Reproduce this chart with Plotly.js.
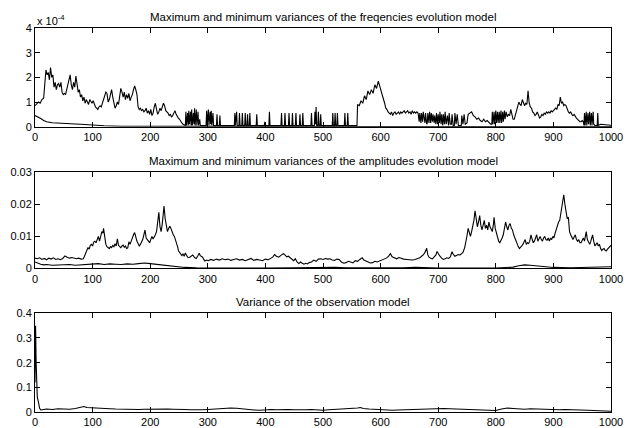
<!DOCTYPE html>
<html>
<head>
<meta charset="utf-8">
<script src="https://cdn.plot.ly/plotly-3.0.1.min.js"></script>
<style>html,body{margin:0;padding:0;background:#fff;}#chart{width:626px;height:428px;}</style>
</head>
<body>
<div id="chart"></div>
<script>
// Panel titles
const titles = [
  "Maximum and minimum variances of the freqencies evolution model",
  "Maximum and minimum variances of the amplitudes evolution model",
  "Variance of the observation model"
];
const xTicks = [0,100,200,300,400,500,600,700,800,900,1000];

// Panel 1: frequency evolution model variances, in units of 1e-4 ([sample, value])
const freqMax = [
[0,0.85],[3,0.95],[6,1.0],[9,0.95],[12,1.1],[15,1.15],[17,1.6],[19,2.3],[21,2.1],[23,2.2],[25,1.9],[27,2.4],[29,2.0],[31,2.1],[33,1.6],[35,1.8],[37,1.5],[39,1.7],[41,1.75],[43,1.6],[45,1.8],[47,1.4],[49,1.3],[51,1.35],[53,1.3],[55,1.5],[57,1.6],[59,1.9],[61,2.1],[63,1.7],[65,1.5],[67,1.8],[69,1.6],[71,2.05],[73,1.7],[75,1.4],[77,1.5],[79,1.2],[81,1.3],[83,1.05],[85,1.2],[87,0.95],[89,1.1],[91,1.0],[93,0.9],[95,1.1],[97,1.0],[99,0.95],[101,1.05],[103,0.9],[105,0.8],[107,0.75],[109,0.7],[111,0.8],[113,0.85],[115,0.8],[117,0.95],[119,1.0],[121,1.2],[123,1.4],[125,1.35],[127,1.0],[129,1.1],[131,1.3],[133,1.5],[135,1.2],[137,0.9],[139,0.75],[141,0.85],[143,1.0],[145,0.9],[147,1.2],[149,1.55],[151,1.4],[153,1.2],[155,1.4],[157,1.1],[159,1.3],[161,1.15],[163,1.35],[165,1.05],[167,1.2],[169,1.3],[171,1.5],[173,1.65],[175,1.5],[177,1.3],[179,0.8],[181,0.7],[183,0.75],[185,0.65],[187,0.7],[189,0.6],[191,0.65],[193,0.75],[195,0.55],[197,0.65],[199,0.5],[201,0.7],[203,0.45],[205,0.55],[207,0.8],[209,0.95],[211,0.7],[213,0.5],[215,0.6],[217,0.75],[219,0.65],[221,0.8],[223,0.95],[225,0.85],[227,0.65],[229,0.6],[231,0.55],[233,0.45],[235,0.5],[237,0.4],[239,0.45],[241,0.55],[243,0.65],[245,0.5],[247,0.4],[249,0.35],[251,0.3],[253,0.2],[255,0.15],[257,0.1],[259,0.08],
[261,0.05],[262,0.6],[263,0.05],[265,0.55],[266,0.05],[267,0.65],[268,0.1],[270,0.6],[271,0.05],[272,0.7],[273,0.05],[275,0.55],[276,0.1],[277,0.75],[278,0.05],[280,0.7],[281,0.05],[283,0.6],[284,0.05],[286,0.3],[287,0.05],[297,0.05],[298,0.65],[299,0.05],[301,0.7],[302,0.05],[304,0.6],[305,0.1],[306,0.65],[307,0.05],[309,0.55],[310,0.05],[315,0.05],[316,0.5],[317,0.05],[320,0.05],[321,0.45],[322,0.05],[346,0.05],[347,0.55],[348,0.05],[350,0.6],[351,0.05],[354,0.05],[355,0.55],[356,0.05],[359,0.05],[360,0.55],[361,0.05],[364,0.05],[365,0.55],[366,0.05],[368,0.05],[369,0.5],[370,0.05],[372,0.05],[373,0.55],[374,0.05],[384,0.05],[385,0.5],[386,0.05],[398,0.05],[399,0.2],[400,0.05],[406,0.05],[407,0.6],[408,0.05],[427,0.05],[428,0.55],[429,0.05],[433,0.05],[434,0.55],[435,0.05],[440,0.05],[441,0.55],[442,0.05],[446,0.05],[447,0.55],[448,0.05],[452,0.05],[453,0.55],[454,0.05],[459,0.05],[460,0.5],[461,0.05],[464,0.05],[465,0.55],[466,0.05],[479,0.05],[480,0.55],[481,0.05],[485,0.05],[486,0.6],[487,0.1],[488,0.8],[489,0.05],[491,0.05],[492,0.6],[493,0.05],[495,0.05],[496,0.5],[497,0.05],[516,0.05],[517,0.55],[518,0.05],[520,0.05],[521,0.55],[522,0.05],[524,0.05],[525,0.55],[526,0.05],[537,0.05],[538,0.55],[539,0.05],[542,0.05],[543,0.55],[544,0.05],[558,0.05],[559,0.05],
[560,0.9],[563,0.85],[566,1.05],[569,0.95],[572,1.25],[575,1.1],[578,1.45],[581,1.3],[584,1.5],[587,1.35],[590,1.7],[593,1.55],[596,1.85],[599,1.6],[601,1.5],[603,1.35],[605,1.2],[607,0.95],[609,0.75],[611,0.7],[613,0.6],[615,0.55],[617,0.5],[619,0.6],[621,0.45],[623,0.55],[625,0.6],[627,0.5],[629,0.55],[631,0.6],[633,0.5],[635,0.6],[637,0.55],[639,0.6],[641,0.65],[643,0.55],[645,0.6],[647,0.65],[649,0.55],[651,0.6],[653,0.5],[655,0.65],[657,0.55],[659,0.6],[661,0.55],[663,0.6],[665,0.55],
[667,0.2],[668,0.55],[670,0.15],[671,0.55],[673,0.2],[674,0.6],[676,0.15],[677,0.15],[678,0.55],[680,0.1],[681,0.15],[682,0.55],[684,0.15],[685,0.6],[687,0.15],[688,0.55],[690,0.2],[691,0.5],[693,0.15],[694,0.45],[696,0.1],[697,0.55],[699,0.1],[700,0.5],[702,0.15],[703,0.6],[705,0.1],[706,0.5],[708,0.05],[709,0.5],[711,0.1],[712,0.6],[714,0.1],[716,0.45],[718,0.05],[719,0.55],[721,0.1],[723,0.1],[724,0.5],[726,0.05],[728,0.05],[729,0.55],[731,0.1],[733,0.5],[735,0.05],[740,0.05],[741,0.45],[743,0.1],[745,0.5],[747,0.1],[750,0.15],[752,0.5],[755,0.55],[758,0.6],[761,0.45],[764,0.4],[767,0.3],[770,0.35],[773,0.25],[776,0.2],[779,0.3],[782,0.2],[785,0.25],[788,0.15],[791,0.1],[793,0.1],[794,0.6],[795,0.1],[797,0.6],[798,0.1],[800,0.65],[801,0.15],[803,0.6],[804,0.15],[806,0.6],[807,0.15],[809,0.65],[810,0.15],[812,0.6],[813,0.2],[815,0.65],[816,0.3],[818,0.6],[820,0.4],[822,0.5],[824,0.45],[826,0.7],[828,0.5],[830,0.3],[832,0.3],[834,0.5],[836,0.6],[838,0.8],[840,1.0],[842,0.9],[844,0.85],[846,1.1],[848,1.0],[850,0.85],[852,0.95],[854,0.9],[856,1.45],[858,0.95],[860,0.8],[862,0.75],[864,0.6],[866,0.55],[868,0.45],[870,0.5],[872,0.6],[874,0.45],[876,0.35],[878,0.4],[880,0.5],[882,0.45],[884,0.55],[886,0.5],[888,0.6],[890,0.55],[892,0.6],[894,0.55],[896,0.65],[898,0.6],[900,0.65],[902,0.7],[904,0.75],[906,0.7],[908,0.9],[910,0.85],[912,1.2],[914,0.95],[916,1.0],[918,0.85],[920,0.9],[922,0.85],[924,0.7],[926,0.6],[928,0.55],[930,0.6],[932,0.5],[934,0.45],[936,0.5],[938,0.4],[940,0.35],[942,0.3],[944,0.25],[946,0.2],[948,0.2],[950,0.25],[952,0.2],[953,0.05],[954,0.55],[955,0.05],[957,0.6],[958,0.05],[960,0.55],[961,0.1],[963,0.6],[964,0.05],[966,0.55],[967,0.05],[969,0.6],[970,0.1],[972,0.05],[973,0.05],[976,0.05],[977,0.55],[978,0.05],[982,0.1],[985,0.1],[990,0.08],[995,0.07],[1000,0.06]
];
const freqMin = [
[0,0.45],[5,0.4],[10,0.33],[15,0.25],[20,0.2],[30,0.16],[40,0.14],[50,0.12],[60,0.13],[70,0.11],[80,0.1],[90,0.08],[100,0.05],[120,0.04],[150,0.02],[200,0.015],[300,0.01],[400,0.01],[500,0.01],[600,0.01],[700,0.01],[800,0.01],[900,0.01],[1000,0.01]
];

// Panel 2: amplitude evolution model variances, in units of 1e-3
const ampMax = [
[0,3.2],[4,3.0],[8,3.3],[12,2.8],[16,3.1],[20,2.7],[24,3.2],[28,2.9],[32,3.3],[36,2.8],[40,3.0],[44,2.7],[48,3.1],[52,3.9],[56,3.5],[60,3.2],[64,3.4],[68,3.1],[72,3.0],[76,3.2],[80,2.9],[84,3.0],[86,4.0],[88,5.2],[90,5.8],[92,6.5],[94,6.0],[96,7.2],[98,7.5],[100,7.0],[102,8.2],[104,8.5],[106,8.0],[108,9.2],[110,10.0],[112,8.5],[114,10.5],[116,11.5],[118,11.0],[119,12.5],[121,10.0],[123,7.5],[125,6.8],[127,6.5],[129,6.2],[131,6.8],[133,6.5],[135,7.2],[137,6.8],[139,7.7],[141,7.0],[143,9.2],[145,7.2],[147,6.8],[149,6.5],[151,7.0],[153,7.3],[155,6.6],[157,7.0],[159,6.2],[161,6.4],[163,8.3],[165,7.5],[167,8.5],[169,9.7],[171,10.5],[173,11.2],[175,9.5],[177,8.5],[179,7.8],[181,7.0],[183,7.5],[185,8.2],[187,9.0],[189,10.5],[191,12.0],[193,9.5],[195,8.8],[197,8.5],[199,8.0],[201,9.0],[203,10.0],[205,9.2],[207,9.8],[209,10.5],[211,11.5],[212,13.5],[214,15.0],[215,17.5],[217,13.0],[219,11.5],[221,14.0],[223,17.0],[224,19.5],[226,15.5],[228,13.0],[230,11.5],[232,12.5],[234,13.2],[236,12.5],[238,11.0],[240,10.5],[242,10.0],[244,9.0],[246,8.0],[248,6.5],[249,5.5],[251,5.0],[253,4.5],[255,4.0],[257,4.5],[259,3.8],[261,4.8],[263,4.0],[265,3.5],[268,3.4],[271,3.9],[274,4.2],[277,3.4],[280,3.1],[283,4.0],[285,4.7],[287,4.0],[289,3.8],[291,3.5],[293,2.8],[295,2.3],[298,2.6],[301,2.4],[305,2.8],[310,2.5],[315,2.9],[320,2.6],[325,3.0],[330,2.7],[335,2.9],[340,2.5],[345,2.8],[350,3.0],[355,2.6],[360,2.8],[365,2.4],[370,2.7],[375,3.1],[380,2.5],[385,2.8],[390,2.6],[395,2.4],[400,2.9],[405,2.7],[410,3.2],[413,3.6],[416,4.3],[419,3.8],[423,3.5],[427,4.0],[431,4.6],[434,4.2],[437,3.6],[440,3.8],[443,3.3],[446,3.0],[449,2.4],[452,3.0],[455,2.0],[458,1.5],[461,2.0],[464,1.6],[467,1.3],[470,1.6],[473,1.4],[476,1.8],[480,2.0],[484,2.6],[488,2.2],[492,2.9],[496,3.0],[500,2.8],[504,3.1],[508,2.9],[512,3.0],[516,2.6],[520,2.5],[524,2.9],[528,2.8],[532,2.0],[536,1.6],[540,1.8],[544,2.2],[548,2.0],[552,1.7],[556,2.4],[560,2.2],[564,2.8],[568,3.3],[571,2.6],[574,2.3],[578,2.0],[582,1.7],[586,1.8],[590,2.2],[594,2.0],[598,2.3],[602,2.6],[606,2.9],[610,3.2],[614,3.8],[617,4.6],[620,3.6],[624,3.3],[628,3.0],[632,3.4],[636,3.1],[640,2.9],[645,2.8],[650,2.7],[655,2.6],[660,2.8],[664,3.0],[668,3.3],[671,3.8],[674,4.2],[677,5.0],[680,6.3],[682,4.2],[684,3.5],[687,3.2],[690,3.0],[693,3.6],[696,4.2],[698,5.3],[700,4.5],[703,3.8],[706,3.2],[709,2.8],[712,3.0],[715,3.3],[718,3.1],[721,3.6],[724,5.2],[726,4.4],[729,3.8],[732,4.0],[735,4.3],[738,4.2],[740,4.5],[743,5.0],[746,6.5],[748,8.0],[750,10.2],[752,12.5],[754,11.0],[756,10.0],[758,11.5],[760,13.0],[762,15.0],[764,18.0],[766,14.5],[768,13.0],[770,14.5],[772,16.5],[774,13.5],[776,12.0],[778,13.5],[780,15.0],[782,12.5],[784,13.5],[786,12.0],[788,14.5],[790,13.0],[792,12.0],[794,11.5],[796,14.0],[797,16.0],[799,12.5],[801,11.0],[803,10.0],[805,8.5],[807,8.0],[809,8.6],[811,9.5],[813,10.5],[815,12.5],[817,14.5],[819,13.0],[821,12.0],[823,13.5],[825,14.0],[827,12.5],[829,12.0],[831,10.5],[833,9.5],[835,9.0],[837,7.5],[839,6.8],[841,6.2],[843,6.8],[845,7.0],[847,7.5],[849,8.5],[851,9.0],[853,7.5],[855,8.0],[857,7.8],[859,8.5],[861,10.5],[863,9.0],[865,8.0],[867,8.5],[869,9.5],[871,10.5],[873,8.5],[875,9.5],[877,10.0],[879,9.0],[881,8.5],[883,9.5],[885,10.0],[887,9.0],[889,8.8],[891,9.5],[893,8.5],[895,9.5],[897,9.0],[899,10.0],[901,9.5],[903,11.0],[905,12.5],[907,13.8],[909,14.5],[911,15.0],[913,17.0],[915,19.0],[917,21.0],[918,23.0],[920,20.0],[922,17.0],[924,15.5],[926,16.0],[928,11.5],[930,10.5],[932,9.5],[934,9.0],[936,9.8],[938,10.5],[940,9.0],[942,8.5],[944,9.0],[946,8.0],[948,8.0],[950,9.0],[952,9.5],[954,8.5],[956,10.0],[957,11.5],[959,9.0],[961,8.0],[963,7.5],[965,8.5],[967,9.5],[968,10.5],[970,8.5],[972,7.0],[974,7.5],[976,8.0],[978,7.0],[980,7.5],[982,6.2],[984,5.6],[986,6.0],[988,6.2],[990,5.6],[992,5.5],[994,6.0],[996,6.5],[998,7.0],[1000,7.2]
];
const ampMin = [
[0,2.0],[5,1.6],[10,1.3],[15,1.1],[20,1.2],[30,1.0],[40,1.1],[50,1.0],[60,1.2],[70,1.0],[80,1.1],[90,1.2],[100,1.3],[110,1.5],[120,1.2],[130,1.4],[140,1.3],[150,1.2],[160,1.4],[170,1.3],[180,1.5],[190,1.7],[200,1.5],[210,1.3],[220,1.1],[230,0.8],[240,0.6],[250,0.4],[260,0.3],[280,0.2],[300,0.15],[350,0.1],[400,0.1],[450,0.15],[480,0.2],[500,0.4],[520,0.3],[540,0.15],[600,0.1],[640,0.2],[660,0.3],[680,0.2],[700,0.1],[800,0.1],[820,0.2],[830,0.4],[840,0.8],[850,1.1],[860,1.0],[870,0.8],[880,0.6],[890,0.4],[900,0.3],[930,0.2],[950,0.3],[970,0.4],[990,0.5],[1000,0.5]
];

// Panel 3: observation model variance
const obsVar = [
[0,0.12],[1,0.35],[2,0.2],[3,0.1],[4,0.06],[6,0.04],[8,0.015],[10,0.008],[15,0.01],[20,0.012],[30,0.01],[40,0.013],[50,0.012],[60,0.011],[70,0.014],[80,0.02],[85,0.022],[90,0.018],[100,0.016],[110,0.015],[120,0.014],[130,0.013],[140,0.012],[150,0.011],[160,0.012],[170,0.01],[180,0.01],[190,0.011],[200,0.012],[210,0.013],[220,0.014],[230,0.012],[240,0.011],[250,0.012],[260,0.01],[270,0.009],[280,0.008],[290,0.009],[300,0.01],[310,0.012],[320,0.013],[330,0.014],[340,0.016],[350,0.015],[360,0.012],[370,0.01],[380,0.008],[390,0.007],[400,0.009],[410,0.01],[420,0.009],[430,0.011],[440,0.01],[450,0.009],[460,0.008],[470,0.009],[480,0.01],[490,0.008],[500,0.007],[510,0.009],[520,0.01],[530,0.011],[540,0.012],[550,0.014],[560,0.016],[565,0.018],[570,0.014],[580,0.012],[590,0.01],[600,0.008],[610,0.009],[620,0.007],[630,0.008],[640,0.009],[650,0.008],[660,0.01],[670,0.009],[680,0.011],[690,0.012],[700,0.014],[710,0.014],[720,0.013],[730,0.012],[740,0.011],[750,0.012],[760,0.01],[770,0.009],[780,0.008],[790,0.007],[800,0.006],[810,0.012],[820,0.016],[830,0.014],[840,0.012],[850,0.011],[860,0.013],[870,0.012],[880,0.012],[890,0.011],[900,0.01],[910,0.009],[920,0.01],[930,0.01],[940,0.009],[950,0.008],[960,0.007],[970,0.006],[980,0.004],[990,0.003],[1000,0.003]
];

const yTicks1 = [0,1,2,3,4];
const yTicks2 = [0,10,20,30];
const yTickText2 = ["0","0.01","0.02","0.03"];
const yTicks3 = [0,0.1,0.2,0.3,0.4];
const yTickText3 = ["0","0.1","0.2","0.3","0.4"];

function line(pts, xa, ya) {
  return {x: pts.map(p => p[0]), y: pts.map(p => p[1]), xaxis: xa, yaxis: ya,
    type: 'scatter', mode: 'lines', line: {color: '#000', width: 1.1}, hoverinfo: 'skip'};
}

const data = [
  line(freqMin, 'x', 'y'), line(freqMax, 'x', 'y'),
  line(ampMin, 'x2', 'y2'), line(ampMax, 'x2', 'y2'),
  line(obsVar, 'x3', 'y3')
];

const font = {family: 'Liberation Sans, Arial, sans-serif', size: 11, color: '#000'};
const titleFont = {family: 'Liberation Sans, Arial, sans-serif', size: 11.5, color: '#000'};
function xaxis(anchor) {
  return {anchor: anchor, range: [0, 1000], tickvals: xTicks, ticks: 'inside', ticklen: 5,
    tickcolor: '#000', showline: true, linecolor: '#000', linewidth: 1, mirror: 'ticks',
    showgrid: false, zeroline: false, tickfont: font, fixedrange: true};
}
function yaxis(anchor, domain, range, tv, tt) {
  const a = {anchor: anchor, domain: domain, range: range, tickvals: tv, ticks: 'inside', ticklen: 5,
    tickcolor: '#000', showline: true, linecolor: '#000', linewidth: 1, mirror: 'ticks',
    showgrid: false, zeroline: false, tickfont: font, fixedrange: true};
  if (tt) a.ticktext = tt;
  return a;
}

const layout = {
  width: 626, height: 428,
  margin: {l: 35, r: 15, t: 28, b: 16},
  paper_bgcolor: '#fff', plot_bgcolor: '#fff',
  showlegend: false, font: font,
  xaxis: xaxis('y'), yaxis: yaxis('x', [0.743, 1], [0, 4], yTicks1),
  xaxis2: xaxis('y2'), yaxis2: yaxis('x2', [0.374, 0.624], [0, 30], yTicks2, yTickText2),
  xaxis3: xaxis('y3'), yaxis3: yaxis('x3', [0, 0.257], [0, 0.4], yTicks3, yTickText3),
  annotations: [
    {text: titles[0], xref: 'paper', yref: 'y domain', x: 0.5, y: 1, yanchor: 'bottom', yshift: 3, showarrow: false, font: titleFont},
    {text: titles[1], xref: 'paper', yref: 'y2 domain', x: 0.5, y: 1, yanchor: 'bottom', yshift: 3, showarrow: false, font: titleFont},
    {text: titles[2], xref: 'paper', yref: 'y3 domain', x: 0.5, y: 1, yanchor: 'bottom', yshift: 3, showarrow: false, font: titleFont},
    {text: 'x 10<sup>-4</sup>', xref: 'paper', yref: 'y domain', x: 0, y: 1, xanchor: 'left', yanchor: 'bottom', yshift: -1, showarrow: false, font: font}
  ]
};

Plotly.newPlot('chart', data, layout, {displayModeBar: false, staticPlot: true});
</script>
</body>
</html>
